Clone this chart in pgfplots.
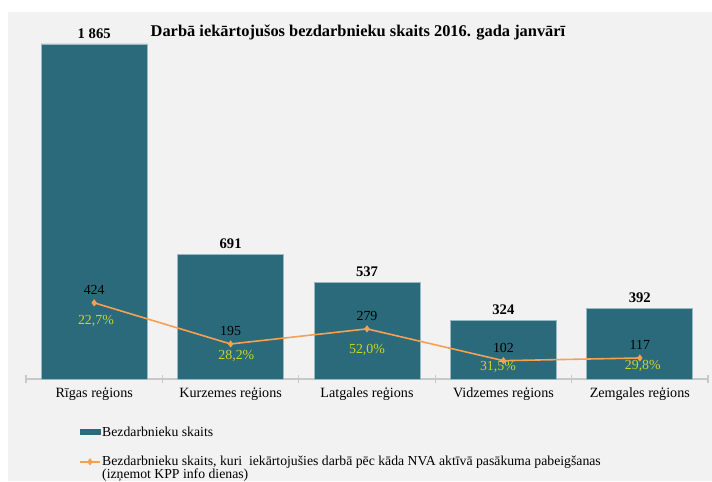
\documentclass[border=0pt]{standalone}
\usepackage{fontspec}
\setmainfont{Liberation Serif}
\usepackage{pgfplots}
\pgfplotsset{compat=1.18}
\definecolor{bg}{RGB}{242,242,242}
\definecolor{barcol}{RGB}{42,106,122}
\definecolor{baredge}{RGB}{150,185,195}
\definecolor{linecol}{RGB}{247,160,80}
\definecolor{pctcol}{RGB}{205,212,40}
\definecolor{axcol}{RGB}{200,200,200}
\newcommand{\lblfont}{\fontsize{10.6}{12}\selectfont}
\newcommand{\legfont}{\fontsize{10.3}{12}\selectfont}
\newcommand{\numfont}{\fontsize{10.4}{12}\selectfont}
\pgfplotsset{
  mylineleg/.style={legend image code/.code={\draw[mark repeat=2,mark phase=2,##1] plot coordinates {(0pt,0pt) (7.5pt,0pt) (15pt,0pt)};}},
  mybarleg/.style={legend image code/.code={\fill[barcol] (0pt,-1.9pt) rectangle (15pt,1.9pt);}},
}
\begin{document}
\begin{tikzpicture}
\fill[white] (0,0) rectangle (534pt,360.75pt);
\fill[bg] (6pt,0) rectangle (534pt,351.75pt);
\node[font=\fontsize{12.3}{14}\selectfont\bfseries] at (268.5pt,336.5pt) {Darbā iekārtojušos bezdarbnieku skaits 2016. gada janvārī};
\begin{axis}[
  at={(19.5pt,76.5pt)}, anchor=south west,
  scale only axis, width=511.5pt, height=251.25pt,
  xmin=-0.5, xmax=4.5, ymin=0, ymax=1865,
  axis x line=bottom, axis y line=none,
  x axis line style={-, draw=axcol, line width=0.8pt},
  xtick={0,1,2,3,4},
  xticklabels={Rīgas reģions, Kurzemes reģions, Latgales reģions, Vidzemes reģions, Zemgales reģions},
  major tick length=0pt,
  minor xtick={-0.5,0.5,1.5,2.5,3.5,4.5},
  minor tick length=6pt,
  tick align=center,
  minor tick style={draw=axcol, line width=0.8pt},
  xticklabel style={anchor=center, yshift=-11.5pt, font=\lblfont},
  ytick=\empty,
  clip=false,
  legend style={at={(0.0777,-0.137)}, anchor=north west, draw=none, fill=none,
    font=\legfont, row sep=11.5pt, inner sep=0pt, nodes={inner sep=1pt}},
  legend cell align=left,
]
\addplot[ybar, bar width=79.5pt, fill=barcol, draw=baredge, line width=0.6pt,
  point meta=explicit symbolic, nodes near coords,
  every node near coord/.append style={anchor=center, yshift=8pt, font=\fontsize{11}{12}\selectfont\bfseries, text=black},
  mybarleg]
  coordinates {(0,1865) [1\ 865] (1,691) [691] (2,537) [537] (3,324) [324] (4,392) [392]};
\addlegendentry{Bezdarbnieku skaits}
\addplot[color=linecol, line width=1.2pt, mark=diamond*, mark size=2.4pt,
  mark options={fill=linecol, line width=0.4pt},
  point meta=explicit symbolic, nodes near coords,
  every node near coord/.append style={anchor=center, yshift=9.75pt, font=\numfont, text=black},
  mylineleg]
  coordinates {(0,424) [424] (1,195) [195] (2,279) [279] (3,102) [102] (4,117) [117]};
\addlegendentry{\rlap{\raisebox{-10pt}[0pt][0pt]{(izņemot KPP info dienas)}}Bezdarbnieku skaits, kuri~ iekārtojušies darbā pēc kāda NVA aktīvā pasākuma pabeigšanas}
\addplot[draw=none, forget plot, point meta=explicit symbolic,
  nodes near coords={\pgfplotspointmeta\%},
  visualization depends on={value \thisrow{dx}\as\mydx},
  visualization depends on={value \thisrow{dy}\as\mydy},
  every node near coord/.append style={anchor=center, xshift=\mydx pt, yshift=\mydy pt, font=\numfont, text=pctcol}]
  table[x=x, y=y, meta=pct] {
x y pct dx dy
0 424 22,7 1.3 -13.7
1 195 28,2 4.3 -8.8
2 279 52,0 0 -15.5
3 102 31,5 -4.1 -5.0
4 117 29,8 2.25 -6.2
};
\end{axis}
\pgfresetboundingbox
\path (0,0) rectangle (534pt,360.75pt);
\end{tikzpicture}
\end{document}
